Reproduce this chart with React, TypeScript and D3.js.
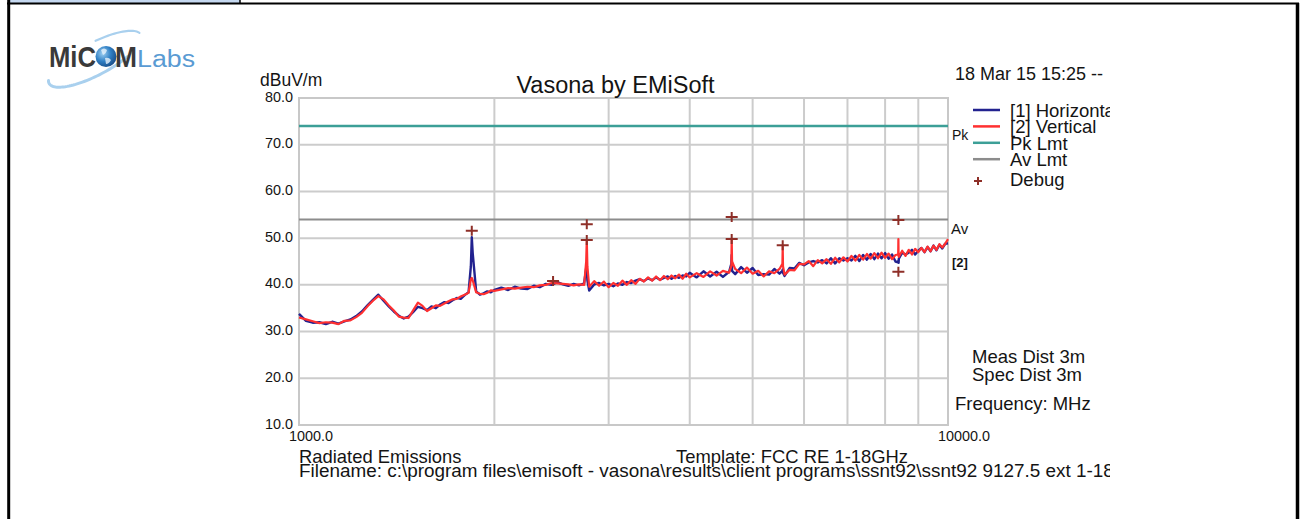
import React, { useEffect, useRef } from 'react';
import * as d3 from 'd3';

// sweep frequencies, MHz
const freqMHz = [
  1000, 1025, 1050, 1075, 1100, 1125, 1150, 1175, 1200, 1225, 1250, 1275, 1300, 1325, 1350, 1375, 1400,
  1425, 1450, 1475, 1500, 1525, 1550, 1575, 1600, 1625, 1650, 1675, 1700, 1725, 1750, 1775, 1800, 1825,
  1840, 1846, 1852, 1875, 1900, 1925, 1950, 1975,
  2000, 2050, 2100, 2150, 2200, 2250, 2300, 2350, 2400, 2450, 2500, 2550, 2600, 2650, 2700, 2750,
  2770, 2776, 2782, 2800, 2850, 2900, 2950, 3000, 3050, 3100, 3150, 3200, 3250, 3300, 3350, 3400,
  3450, 3500, 3550, 3600, 3650, 3700, 3750, 3800, 3850, 3900, 3950,
  4000, 4100, 4200, 4300, 4400, 4500, 4600, 4636, 4642, 4648, 4700, 4800, 4900, 5000, 5100, 5200,
  5300, 5400, 5500, 5557, 5563, 5569, 5600, 5700, 5800, 5900, 6000, 6100, 6200, 6300, 6400, 6500,
  6600, 6700, 6800, 6900, 7000, 7100, 7200, 7300, 7400, 7500, 7600, 7700, 7800, 7900, 8000, 8100,
  8200, 8300, 8380, 8386, 8392, 8400, 8500, 8600, 8700, 8800, 8900, 9000, 9100, 9200, 9300, 9400,
  9500, 9600, 9700, 9800, 9900, 10000
];

// [1] Horizontal, dBuV/m
const horizontal = [
  33.8, 32.3, 31.9, 32.0, 31.6, 32.1, 31.7, 32.2, 32.6, 33.3, 34.3, 35.6, 36.8, 37.9, 36.6, 35.4, 34.3,
  33.4, 32.8, 33.2, 34.2, 35.3, 35.0, 34.6, 35.4, 35.0, 35.8, 36.3, 36.1, 36.7, 37.2, 37.0, 37.8, 38.4,
  44.0, 50.2, 46.8, 38.6, 37.9, 38.2, 38.6, 38.4,
  38.9, 39.4, 38.9, 39.6, 39.2, 39.1, 39.8, 39.5, 40.2, 40.0, 40.6, 40.1, 39.8, 40.2, 39.9, 40.3,
  43.6, 43.4, 41.0, 38.8, 40.1, 40.4, 39.9, 40.2, 39.7, 40.3, 40.0, 40.6, 40.4, 40.9, 41.2, 40.8,
  41.4, 41.0, 41.6, 41.1, 41.5, 41.8, 41.3, 41.9, 41.5, 42.0, 41.8,
  42.6, 41.6, 42.9, 41.8, 42.8, 41.7, 42.8, 44.5, 46.4, 43.0, 42.3, 43.8, 42.6, 43.6, 42.1, 42.3,
  42.2, 43.4, 42.4, 43.0, 43.3, 42.6, 41.9, 43.6, 43.5, 44.7, 44.2, 44.8, 45.1, 44.8, 45.3, 44.6,
  45.7, 44.6, 45.7, 45.2, 45.7, 45.2, 46.2, 45.1, 46.4, 45.4, 46.6, 45.5, 46.7, 45.7, 46.8, 45.6,
  46.5, 45.0, 44.8, 45.2, 44.7, 45.6, 46.9, 46.5, 46.9, 47.5, 46.5, 47.3, 47.9, 47.0, 48.1, 47.2,
  48.4, 47.4, 48.6, 47.8, 48.8, 48.9
];

// [2] Vertical, dBuV/m
const vertical = [
  33.0, 32.6, 32.2, 31.8, 32.0, 31.9, 31.6, 32.3, 32.4, 33.1, 34.0, 35.4, 36.6, 37.6, 36.9, 35.6, 34.5,
  33.2, 33.0, 32.9, 34.6, 36.2, 35.5, 34.4, 35.0, 35.6, 35.5, 36.0, 36.5, 36.9, 37.0, 37.5, 37.9, 38.3,
  41.2, 41.5, 41.0, 38.4, 38.1, 38.0, 38.3, 38.8,
  38.7, 39.0, 39.3, 39.2, 39.4, 39.6, 39.5, 39.9, 40.0, 40.4, 40.3, 40.2, 40.1, 39.9, 40.1, 40.0,
  45.0, 49.6, 44.0, 39.6, 40.8, 39.8, 40.7, 39.5, 40.4, 39.8, 40.9, 40.0, 41.0, 40.2, 41.3, 40.7,
  41.6, 40.9, 41.8, 41.0, 41.9, 41.2, 42.0, 41.4, 42.2, 41.3, 42.4,
  41.6, 42.5, 41.7, 42.9, 42.0, 43.0, 42.6, 44.0, 49.8, 45.0, 43.4, 42.5, 43.7, 42.4, 43.0, 41.8,
  42.9, 42.5, 43.4, 44.5, 48.2, 44.0, 42.2, 43.2, 43.1, 44.5, 44.4, 45.1, 44.0, 45.3, 44.6, 45.5,
  44.5, 45.8, 44.8, 45.9, 45.0, 46.2, 45.2, 46.4, 45.4, 46.6, 45.6, 46.8, 45.7, 46.9, 45.8, 46.7,
  45.5, 46.4, 46.5, 49.8, 46.2, 46.0, 47.3, 46.2, 47.5, 46.5, 47.7, 47.0, 47.9, 47.0, 48.2, 47.2,
  48.4, 47.5, 48.7, 48.0, 48.8, 49.8
];

// debug markers
const debugFreq = [1846, 2463, 2776, 2776, 4642, 4642, 5563, 8386, 8386];
const debugLevel = [51.6, 40.8, 53.0, 49.6, 54.5, 49.8, 48.5, 53.9, 42.8];

const pkLimit = 74;
const avLimit = 54;

const legendNames = ['[1] Horizontal', '[2] Vertical', 'Pk Lmt', 'Av Lmt', 'Debug'];
const legendColors = ['#22228f', '#ff3030', '#3c9f97', '#8c8c8c', '#8e2f28'];

const FONT = 'Liberation Sans, Arial, sans-serif';
const INK = '#141414';

function addText(g: any, x: number, y: number, size: number, text: string, opts: any = {}) {
  const t = g.append('text')
    .attr('x', x)
    .attr('y', y)
    .attr('font-size', size)
    .attr('font-family', FONT)
    .attr('fill', opts.color || INK)
    .attr('font-weight', opts.weight || 'normal')
    .attr('text-anchor', opts.anchor || 'start')
    .text(text);
  if (opts.len) t.attr('textLength', opts.len).attr('lengthAdjust', 'spacingAndGlyphs');
  return t;
}

function cross(cx: number, cy: number, w: number, h: number) {
  return `M${cx - w / 2},${cy}h${w}M${cx},${cy - h / 2}v${h}`;
}

// partial arc of a tilted ellipse, for the logo swoosh
function orbitArc(cx: number, cy: number, rx: number, ry: number, rot: number, a0: number, a1: number) {
  const pts: [number, number][] = [];
  const r = rot * Math.PI / 180;
  for (let a = a0; a <= a1; a += 3) {
    const t = a * Math.PI / 180;
    const lx = rx * Math.cos(t), ly = ry * Math.sin(t);
    pts.push([cx + lx * Math.cos(r) - ly * Math.sin(r), cy + lx * Math.sin(r) + ly * Math.cos(r)]);
  }
  return d3.line()(pts);
}

function drawFrame(svg: any) {
  svg.append('rect').attr('x', 9).attr('y', 0).attr('width', 231).attr('height', 3).attr('fill', '#c5d8f0');
  svg.append('line').attr('x1', 240).attr('y1', 0).attr('x2', 240).attr('y2', 4)
    .attr('stroke', '#000').attr('stroke-width', 1.5);
  svg.append('line').attr('x1', 7).attr('y1', 3.5).attr('x2', 1299).attr('y2', 3.5)
    .attr('stroke', '#000').attr('stroke-width', 2);
  svg.append('line').attr('x1', 8.7).attr('y1', 0).attr('x2', 8.7).attr('y2', 519)
    .attr('stroke', '#000').attr('stroke-width', 3);
  svg.append('line').attr('x1', 1297.5).attr('y1', 3).attr('x2', 1297.5).attr('y2', 519)
    .attr('stroke', '#000').attr('stroke-width', 3.5);
}

function drawLogo(svg: any) {
  const g = svg.append('g');
  const defs = svg.append('defs');
  const rg = defs.append('radialGradient').attr('id', 'globe').attr('cx', '35%').attr('cy', '35%').attr('r', '70%');
  rg.append('stop').attr('offset', '0%').attr('stop-color', '#9fd0f2');
  rg.append('stop').attr('offset', '55%').attr('stop-color', '#2f7fc4');
  rg.append('stop').attr('offset', '100%').attr('stop-color', '#1a4f8a');

  g.append('path').attr('d', orbitArc(95, 59, 52, 16, -28, 55, 190))
    .attr('fill', 'none').attr('stroke', '#a9d0ee').attr('stroke-width', 3).attr('stroke-linecap', 'round');
  g.append('path').attr('d', orbitArc(95, 59, 52, 16, -28, -80, -8))
    .attr('fill', 'none').attr('stroke', '#a9d0ee').attr('stroke-width', 2.2).attr('stroke-linecap', 'round');

  addText(g, 49, 67, 30, 'MiC', { weight: 'bold', color: '#3a3a3a', len: 47 });
  g.append('circle').attr('cx', 106).attr('cy', 56.5).attr('r', 10.5).attr('fill', 'url(#globe)');
  g.append('path').attr('d', 'M101,50 q3,-3 6,0 q-1,4 -4,5 z M105,58 q4,-1 6,2 q-2,4 -5,4 z')
    .attr('fill', '#e8f3fb').attr('opacity', 0.8);
  addText(g, 115, 67, 30, 'M', { weight: 'bold', color: '#3a3a3a', len: 22 });
  addText(g, 137, 67, 23, 'Labs', { color: '#5a9bd3', len: 58 });
}

function drawChart(svg: any) {
  const x = d3.scaleLog().domain([1000, 10000]).range([299, 948]);
  const y = d3.scaleLinear().domain([10, 80]).range([425, 98]);
  const [x0, x1] = x.range();
  const [y0, y1] = y.range();

  const clip = svg.append('defs').append('clipPath').attr('id', 'pageclip');
  clip.append('rect').attr('x', 0).attr('y', 0).attr('width', 1110).attr('height', 519);

  const grid = svg.append('g');
  grid.selectAll('.vg')
    .data(x.ticks().filter((t: number) => t > 1000 && t < 10000))
    .enter().append('line')
    .attr('x1', (d: number) => x(d)).attr('x2', (d: number) => x(d))
    .attr('y1', y1).attr('y2', y0)
    .attr('stroke', '#cccccc').attr('stroke-width', 2);
  grid.selectAll('.hg')
    .data(y.ticks(7).filter((t: number) => t > 10 && t < 80))
    .enter().append('line')
    .attr('x1', x0).attr('x2', x1)
    .attr('y1', (d: number) => y(d)).attr('y2', (d: number) => y(d))
    .attr('stroke', '#cccccc').attr('stroke-width', 2);
  grid.append('rect')
    .attr('x', x0).attr('y', y1).attr('width', x1 - x0).attr('height', y0 - y1)
    .attr('fill', 'none').attr('stroke', '#c8c8c8').attr('stroke-width', 2);

  // limits
  svg.append('line').attr('x1', x0).attr('x2', x1).attr('y1', y(pkLimit)).attr('y2', y(pkLimit))
    .attr('stroke', legendColors[2]).attr('stroke-width', 2.6);
  svg.append('line').attr('x1', x0).attr('x2', x1).attr('y1', y(avLimit)).attr('y2', y(avLimit))
    .attr('stroke', legendColors[3]).attr('stroke-width', 2);

  // traces
  const line = d3.line<[number, number]>().x(d => x(d[0])).y(d => y(d[1]));
  svg.append('path').datum(freqMHz.map((f, i) => [f, horizontal[i]] as [number, number]))
    .attr('d', line).attr('fill', 'none').attr('stroke', legendColors[0]).attr('stroke-width', 2.4)
    .attr('stroke-linejoin', 'round');
  svg.append('path').datum(freqMHz.map((f, i) => [f, vertical[i]] as [number, number]))
    .attr('d', line).attr('fill', 'none').attr('stroke', legendColors[1]).attr('stroke-width', 2.2)
    .attr('stroke-linejoin', 'round');

  // debug markers
  svg.selectAll('.dbg').data(debugFreq).enter().append('path')
    .attr('d', (d: number, i: number) => cross(x(d), y(debugLevel[i]), 12, 10))
    .attr('stroke', legendColors[4]).attr('stroke-width', 2).attr('fill', 'none');

  // axis labels
  const fmt = d3.format('.1f');
  const yl = svg.append('g');
  y.ticks(7).forEach((t: number) => {
    addText(yl, 293, y(t) + 3.5, 14.4, fmt(t), { anchor: 'end' });
  });
  x.domain().forEach((t: number) => {
    addText(yl, x(t) - 10, 441, 14.4, fmt(t));
  });
  addText(yl, 260, 86, 17.5, 'dBuV/m');
  addText(yl, (x0 + x1) / 2 - 8, 93, 23.5, 'Vasona by EMiSoft', { anchor: 'middle' });
  addText(yl, 955, 80, 18, '18 Mar 15 15:25 --');

  addText(yl, 952, y(pkLimit) + 14, 14, 'Pk');
  addText(yl, 951, y(avLimit) + 15, 15, 'Av');
  addText(yl, 952, 267, 13, '[2]', { weight: 'bold' });

  // legend
  const lg = svg.append('g').attr('clip-path', 'url(#pageclip)');
  legendNames.forEach((n, i) => {
    const base = i < 4 ? 117 + i * 16.4 : 186;
    if (i < 4) {
      lg.append('line').attr('x1', 973).attr('x2', 1000).attr('y1', base - 7).attr('y2', base - 7)
        .attr('stroke', legendColors[i]).attr('stroke-width', 2.5);
    } else {
      lg.append('path').attr('d', cross(978, base - 5, 8, 8))
        .attr('stroke', legendColors[i]).attr('stroke-width', 2).attr('fill', 'none');
    }
    addText(lg, 1010, base, 18.5, n);
  });

  addText(yl, 972, 363, 18.5, 'Meas Dist 3m');
  addText(yl, 972, 381, 18.5, 'Spec Dist 3m');
  addText(yl, 955, 410, 18.5, 'Frequency: MHz');

  const bt = svg.append('g').attr('clip-path', 'url(#pageclip)');
  addText(bt, 299, 463, 18.4, 'Radiated Emissions');
  addText(bt, 676, 463, 18.4, 'Template: FCC RE 1-18GHz');
  addText(bt, 299, 477, 18.9, 'Filename: c:\\program files\\emisoft - vasona\\results\\client programs\\ssnt92\\ssnt92 9127.5 ext 1-18GHz');
}

export default function App() {
  const ref = useRef<SVGSVGElement>(null);
  useEffect(() => {
    const svg = d3.select(ref.current);
    svg.selectAll('*').remove();
    drawFrame(svg);
    drawLogo(svg);
    drawChart(svg);
  }, []);
  return (
    <svg
      ref={ref}
      width={1304}
      height={519}
      style={{ position: 'absolute', left: 0, top: 0, display: 'block', background: '#fff' }}
    />
  );
}
